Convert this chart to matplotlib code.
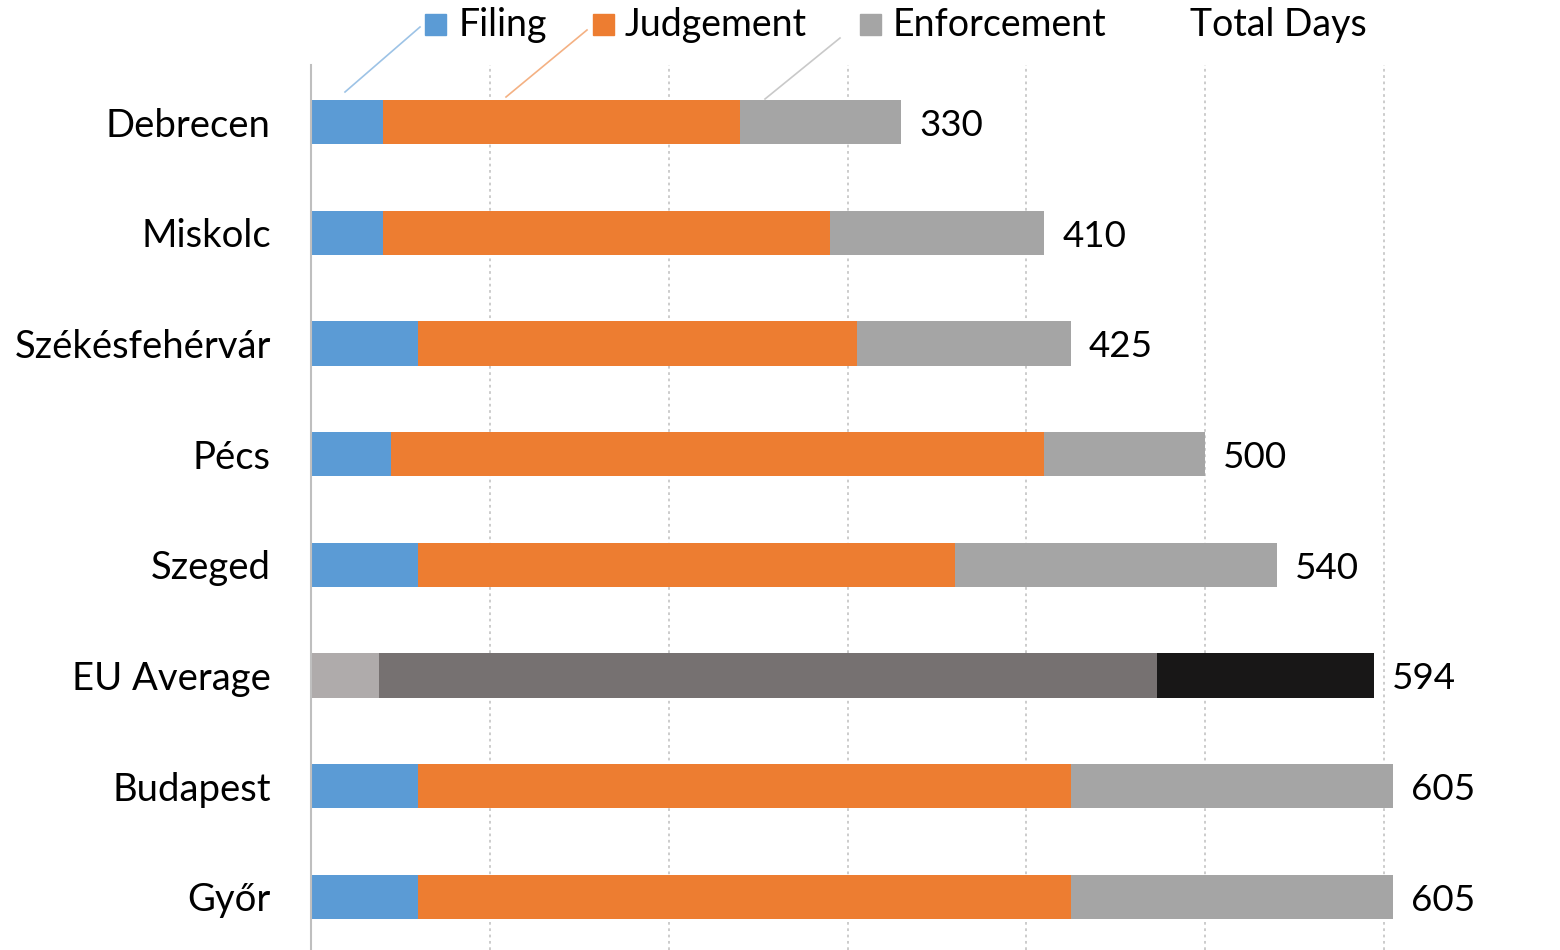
import numpy as np
import matplotlib
matplotlib.use('Agg')
from matplotlib import pyplot as plt

plt.rcParams['font.family'] = ['Lato', 'DejaVu Sans']

# ---------------------------------------------------------------- data

cities = ['Debrecen', 'Miskolc', 'Székésfehérvár', 'Pécs', 'Szeged',
          'EU Average', 'Budapest', 'Győr']
filing      = [40, 40, 60, 45, 60, 38, 60, 60]
judgement   = [200, 250, 245, 365, 300, 435, 365, 365]
enforcement = [90, 120, 120, 90, 180, 121, 180, 180]
total_days  = [330, 410, 425, 500, 540, 594, 605, 605]

series = ['Filing', 'Judgement', 'Enforcement']
colors = ['#5B9BD5', '#ED7D31', '#A5A5A5']
eu_colors = ['#AFABAB', '#767171', '#181717']

FS = 26.5

# ---------------------------------------------------------------- plot

fig = plt.figure(figsize=(15.6, 9.5), dpi=100)
ax = fig.add_axes([311/1560, 0.0, 1 - 311/1560 + 0.002, 1 - 65/950])

y = np.arange(len(cities))
left = np.zeros(len(cities))
for vals, col, eucol in zip([filing, judgement, enforcement], colors, eu_colors):
  cols = [eucol if c == 'EU Average' else col for c in cities]
  ax.barh(y, vals, left=left, height=0.4, color=cols, edgecolor='none')
  left += np.array(vals)

for yi, tot in zip(y, total_days):
  ax.text(tot + 10, yi + 0.03, str(tot), ha='left', va='center', fontsize=FS)

ax.set_xlim(0, 700)
ax.set_ylim(7.48, -0.515)
ax.set_yticks(y)
ax.set_yticklabels(cities, fontsize=27.5)
ax.tick_params(axis='y', length=0, pad=29)
ax.tick_params(axis='x', length=0, labelbottom=False)
ax.set_xticks(np.arange(100, 701, 100))
ax.grid(axis='x', color='#C8C8C8', linestyle=(0, (1.5, 2)), linewidth=1.3)
ax.set_axisbelow(True)
for s in ['top', 'right', 'bottom']:
  ax.spines[s].set_visible(False)
ax.spines['left'].set_color('#BFBFBF')
ax.spines['left'].set_linewidth(1.5)

# ---------------------------------------------------------------- legend

def fx(px): return px / 1560
def fy(py): return 1 - py / 950

leg_sq = [425, 593, 860]
leg_tx = [459, 625, 893]
lead = [((420, 27), (345, 92)), ((587, 30), (506, 97)), ((840, 38), (765, 99))]
lead_col = ['#9DC3E6', '#F4B183', '#C9C9C9']
for name, col, sq, tx, ln, lc in zip(series, colors, leg_sq, leg_tx, lead, lead_col):
  fig.patches.append(plt.Rectangle((fx(sq), fy(35)), fx(21), 21/950, color=col,
                                   transform=fig.transFigure))
  fig.text(fx(tx), fy(25), name, ha='left', va='center', fontsize=27)
  fig.lines.append(plt.Line2D([fx(ln[0][0]), fx(ln[1][0])], [fy(ln[0][1]), fy(ln[1][1])],
                              color=lc, linewidth=1.2, transform=fig.transFigure))
fig.text(fx(1190), fy(25), 'Total Days', ha='left', va='center', fontsize=27)

fig.savefig('out.png', dpi=100, facecolor='white')
